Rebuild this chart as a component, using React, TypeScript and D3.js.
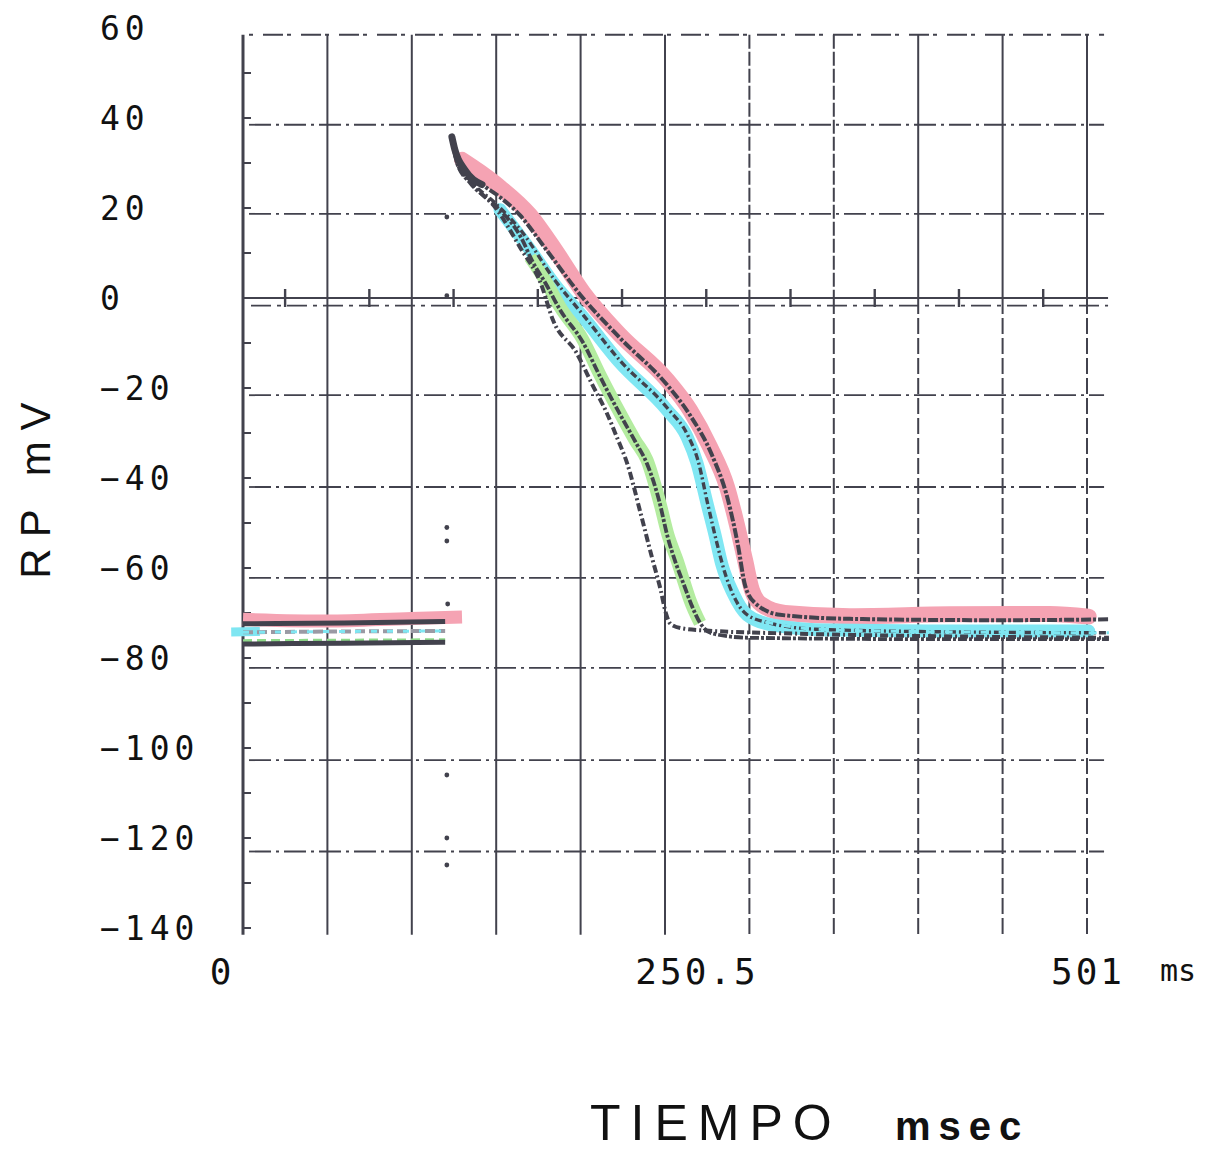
import React from "react";
import * as d3 from "d3";

// ---- axis / tick data ----
const yTickValues = [60, 40, 20, 0, -20, -40, -60, -80, -100, -120, -140];
const yMinorTicks = [50, 40, 30, 20, 10, 0, -10, -20, -30, -40, -50, -60, -70, -80, -90, -100, -110, -120, -130, -140];
const xTickLabels = [
  { t: 0, label: "0" },
  { t: 250.5, label: "250.5" },
  { t: 501, label: "501" },
];
const vGridTimes = [50.1, 100.2, 150.3, 200.4, 250.5, 300.6, 350.7, 400.8, 450.9, 501];
const vGridSolid = [true, true, true, true, true, false, false, false, false, false];
const hGridValues = [58.5, 38.5, 18.7, -21.6, -42, -62.2, -82.2, -102.7, -123];
const zeroAxisTicks = [25, 75, 125, 175, 225, 275, 325, 375, 425, 475];
const stimulusDots = [
  { t: 121, v: 18 },
  { t: 121, v: 0.5 },
  { t: 121, v: -51 },
  { t: 121, v: -54 },
  { t: 121.5, v: -68 },
  { t: 121, v: -106 },
  { t: 121, v: -120 },
  { t: 121, v: -126 },
];

// ---- highlighted bands (hand highlighter) [t ms, mV] ----
const pinkBaseBand: [number, number][] = [[0, -71.4], [50, -71.8], [100, -71.2], [130, -70.9]];
const cyanBaseBand: [number, number][] = [[-7, -74.2], [10, -74.1]];
const pinkBand: [number, number][] = [
  [130, 30.7], [140.7, 28], [152.6, 24.6], [170.4, 18.4], [185.2, 10.7], [201.8, 1.3],
  [223.8, -8.2], [251.7, -18.2], [265.3, -24.9], [277.2, -33.1], [287.3, -42],
  [293.2, -50.4], [298, -58.2], [302.1, -64.9], [308.1, -68.2], [321.7, -70],
  [360.3, -70.7], [419.7, -70.3], [479, -70.2], [502, -70.8],
];
const cyanBand: [number, number][] = [
  [152.6, 19.6], [170.4, 10.7], [185.2, 2.9], [201.8, -4.2], [223.8, -14.4],
  [251.7, -24.9], [263.6, -30.9], [269.5, -36.7], [275.4, -45.6], [280.2, -52.7],
  [284.3, -59.3], [290.9, -65.6], [299.2, -70.4], [314.6, -72.7], [348.4, -73.8],
  [419.7, -74], [502, -74],
];
const greenBand: [number, number][] = [
  [170.4, 9.1], [179.3, 4], [188.2, -2], [201.8, -9.3], [211.9, -17.1], [223.8, -25.6],
  [232.7, -31.6], [239.8, -36], [247.5, -45.6], [252.3, -52.7], [257.6, -58.2],
  [261.8, -63.1], [265.3, -67.1], [271.3, -72.2],
];

// ---- printed traces (dark) ----
const restA: [number, number][] = [[0, -72.4], [60, -72.2], [120, -71.9]];
const restB: [number, number][] = [[0, -74.3], [60, -74.1], [120, -74]];
const restC: [number, number][] = [[0, -76.2], [60, -76.1], [120, -76]];
const restD: [number, number][] = [[0, -76.9], [60, -76.7], [120, -76.5]];

const traceA: [number, number][] = [
  [124, 35.8], [125.8, 32.9], [131.8, 28.4], [141.9, 25.2], [152.6, 22.4], [164.4, 18.4],
  [179.3, 11.1], [201.8, 0], [223.8, -8.9], [251.7, -19.3], [265.3, -26], [278.4, -34.9],
  [287.9, -44.9], [293.8, -54.9], [298, -63.8], [304, -67.8], [318.8, -70.4],
  [360.3, -71.3], [449.4, -71.6], [514, -71.4],
];
const traceB: [number, number][] = [
  [124, 35.8], [127, 30], [135, 26], [150, 21], [165, 15], [185, 4], [202, -3.8],
  [224, -14], [252, -24.5], [264, -30.5], [270, -36], [276, -46], [281, -54],
  [286, -61], [291, -66], [298, -70], [310, -72], [340, -73.6], [420, -74.2], [514, -74.4],
];
const traceC: [number, number][] = [
  [124, 35.8], [127, 30], [135, 25.5], [150, 20.5], [165, 13.5], [172, 8], [180, 3],
  [188, -2.5], [202, -10], [212, -17.5], [224, -26], [233, -32], [240, -37],
  [247, -45], [252, -53], [257, -59], [262, -64], [266, -68], [271, -72],
  [278, -74.5], [300, -75.5], [400, -75.8], [514, -75.8],
];
const traceD: [number, number][] = [
  [124, 35.8], [128, 30], [137, 25], [150, 20], [164.4, 11.3], [177, 3], [184, -4.9],
  [198, -12.2], [207, -19], [216, -25.6], [222, -31], [228, -36.7], [236, -47.8],
  [243, -58], [248, -65], [251, -70], [254, -72.5], [262, -73.5], [275, -73.9],
  [330, -74.6], [420, -75.2], [514, -75.5],
];

const W = 1213;
const H = 1152;
const x = d3.scaleLinear().domain([0, 501]).range([243, 1087]);
const y = d3.scaleLinear().domain([-140, 60]).range([928, 28]);

const line = d3
  .line<[number, number]>()
  .x((d) => x(d[0]))
  .y((d) => y(d[1]))
  .curve(d3.curveMonotoneX);

const INK = "#42424d";
const MONO = "'DejaVu Sans Mono', monospace";
const SANS = "'Liberation Sans', Arial, sans-serif";

export default function App() {
  const top = 58.5;
  const bottom = -141.5;
  const rightT = 513.5;
  return (
    <svg
      width={W}
      height={H}
      style={{ position: "absolute", left: 0, top: 0, background: "#fff" }}
    >
      <rect width={W} height={H} fill="#fff" />
      {/* vertical grid */}
      {vGridTimes.map((t, i) => (
        <g key={"v" + i}>
          <line
            x1={x(t)}
            x2={x(t)}
            y1={y(top)}
            y2={y(0)}
            stroke={INK}
            strokeWidth={2}
            strokeDasharray={vGridSolid[i] || i >= 7 ? undefined : "14 3"}
          />
          <line
            x1={x(t)}
            x2={x(t)}
            y1={y(0)}
            y2={y(bottom)}
            stroke={INK}
            strokeWidth={2}
            strokeDasharray={vGridSolid[i] ? undefined : "16 4"}
          />
        </g>
      ))}
      {/* horizontal grid */}
      {hGridValues.map((v, i) => (
        <line
          key={"h" + i}
          x1={x(0) + 6}
          x2={x(rightT) - 4}
          y1={y(v)}
          y2={y(v)}
          stroke={INK}
          strokeWidth={1.8}
          strokeDasharray={i === 0 ? "4 10 20 4" : "22 5 3 5"}
        />
      ))}
      {/* zero axis */}
      <line x1={x(0)} x2={x(rightT)} y1={y(0)} y2={y(0)} stroke={INK} strokeWidth={2.2} />
      <line
        x1={x(0) + 8}
        x2={x(rightT)}
        y1={y(-1.7)}
        y2={y(-1.7)}
        stroke={INK}
        strokeWidth={1.6}
        strokeDasharray="20 6 4 6"
      />
      {zeroAxisTicks.map((t, i) => (
        <line
          key={"zt" + i}
          x1={x(t)}
          x2={x(t)}
          y1={y(0) - 9}
          y2={y(0) + 9}
          stroke={INK}
          strokeWidth={2.4}
        />
      ))}
      {/* left axis */}
      <line x1={x(0)} x2={x(0)} y1={y(top)} y2={y(bottom)} stroke={INK} strokeWidth={3} />
      {yMinorTicks.map((v, i) => (
        <line
          key={"mt" + i}
          x1={x(0)}
          x2={x(0) + 8}
          y1={y(v)}
          y2={y(v)}
          stroke={INK}
          strokeWidth={2}
        />
      ))}

      {/* highlighter bands */}
      <path d={line(pinkBaseBand) || ""} fill="none" stroke="#f5a3b3" strokeWidth={13} strokeLinecap="butt" />
      <path d={line(cyanBaseBand) || ""} fill="none" stroke="#7fe6f2" strokeWidth={9} />
      <path d={line(pinkBand) || ""} fill="none" stroke="#f5a3b3" strokeWidth={16} strokeLinecap="round" />
      <path d={line(cyanBand) || ""} fill="none" stroke="#80e7f3" strokeWidth={13} strokeLinecap="round" />
      <path d={line(greenBand) || ""} fill="none" stroke="#b4eca0" strokeWidth={13} strokeLinecap="butt" />

      {/* baselines */}
      <path d={line(restA) || ""} fill="none" stroke={INK} strokeWidth={5} />
      <path d={line(restB) || ""} fill="none" stroke="#9a9aa4" strokeWidth={4} strokeDasharray="10 4" />
      <path d={line(restB) || ""} fill="none" stroke="#7fe6f2" strokeWidth={3} strokeDasharray="6 10" />
      <path d={line(restC) || ""} fill="none" stroke="#8fd98a" strokeWidth={3.5} strokeDasharray="9 5" />
      <path d={line(restD) || ""} fill="none" stroke={INK} strokeWidth={5} />

      {/* action potential traces */}
      <path d={line(traceA) || ""} fill="none" stroke={INK} strokeWidth={4} strokeDasharray="10 2 3 2" />
      <path d={line(traceB) || ""} fill="none" stroke={INK} strokeWidth={3.4} strokeDasharray="7 3 2 3" />
      <path d={line(traceC) || ""} fill="none" stroke={INK} strokeWidth={3.8} strokeDasharray="9 2 3 2" />
      <path d={line(traceD) || ""} fill="none" stroke={INK} strokeWidth={4} strokeDasharray="8 3 2 3" />
      {/* cyan dashes on trace B tail */}
      <path
        d={line(traceB.filter((d) => d[0] >= 310)) || ""}
        fill="none"
        stroke="#7fe6f2"
        strokeWidth={3}
        strokeDasharray="8 10"
      />
      {/* thick merged peak */}
      <path
        d={line(traceA.slice(0, 4)) || ""}
        fill="none"
        stroke={INK}
        strokeWidth={7}
        strokeLinecap="round"
      />
      {stimulusDots.map((d, i) => (
        <circle key={"sd" + i} cx={x(d.t)} cy={y(d.v)} r={2.4} fill={INK} />
      ))}

      {/* y tick labels */}
      {yTickValues.map((v) => (
        <text
          key={"yl" + v}
          x={100}
          y={y(v)}
          dy="0.36em"
          fontFamily={MONO}
          fontSize={33}
          letterSpacing={5}
          fill="#111"
        >
          {v < 0 ? "\u2212" + Math.abs(v) : String(v)}
        </text>
      ))}
      {/* x tick labels */}
      {xTickLabels.map((d) => (
        <text
          key={"xl" + d.label}
          x={d.t === 0 ? 222 : d.t === 501 ? 1088 : 697}
          y={984}
          textAnchor="middle"
          fontFamily={MONO}
          fontSize={36}
          letterSpacing={3}
          fill="#111"
        >
          {d.label}
        </text>
      ))}
      <text x={1160} y={981} fontFamily={MONO} fontSize={30} fill="#111">
        ms
      </text>

      {/* axis titles */}
      <text
        transform="translate(50,485) rotate(-90)"
        textAnchor="middle"
        fontFamily={SANS}
        fontSize={42}
        letterSpacing={11}
        fill="#111"
      >
        RP mV
      </text>
      <text x={590} y={1140} fontFamily={SANS} fontSize={50} letterSpacing={10} fill="#111">
        TIEMPO
      </text>
      <text
        x={895}
        y={1140}
        fontFamily={SANS}
        fontSize={40}
        fontWeight="bold"
        letterSpacing={8}
        fill="#111"
      >
        msec
      </text>
    </svg>
  );
}
